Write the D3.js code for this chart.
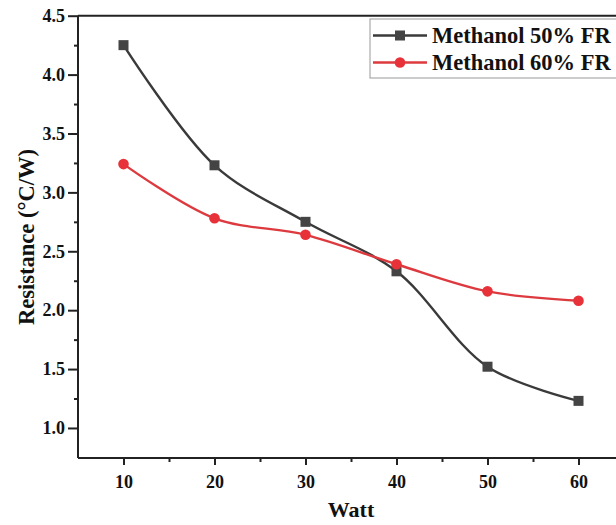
<!DOCTYPE html>
<html>
<head>
<meta charset="utf-8">
<script src="https://cdn.jsdelivr.net/npm/d3@7"></script>
<style>
  body { margin: 0; background: #fff; }
  text { font-family: "Liberation Serif", "Times New Roman", serif; font-weight: bold; }
</style>
</head>
<body>
<div id="chart"></div>
<script>
// chart values
var watts = [10, 20, 30, 40, 50, 60];
var methanol50 = [4.25, 3.23, 2.75, 2.33, 1.52, 1.23];
var methanol60 = [3.24, 2.78, 2.64, 2.39, 2.16, 2.08];
var seriesNames = ["Methanol 50% FR", "Methanol 60% FR"];
var xTicks = [10, 20, 30, 40, 50, 60];
var yTicks = [1.0, 1.5, 2.0, 2.5, 3.0, 3.5, 4.0, 4.5];

var W = 616, H = 525;
var plotLeft = 78, plotTop = 15.7, plotBottom = 458;

var svg = d3.select("#chart").append("svg").attr("width", W).attr("height", H);

// x runs past the right edge of the window, like the cropped original
var x = d3.scaleLinear().domain([5, 65]).range([plotLeft, plotLeft + 91 * 6]);
var y = d3.scaleLinear().domain([0.745, 4.5]).range([plotBottom, plotTop]);

// top border
svg.append("line").attr("x1", plotLeft).attr("x2", W).attr("y1", plotTop).attr("y2", plotTop)
    .attr("stroke", "#222").attr("stroke-width", 2);

var xAxis = svg.append("g").attr("transform", "translate(0," + plotBottom + ")")
    .call(d3.axisBottom(x).tickValues(xTicks).tickFormat(d3.format("d")).tickSize(7).tickPadding(10));
var xMinor = svg.append("g").attr("transform", "translate(0," + plotBottom + ")")
    .call(d3.axisBottom(x).tickValues([15, 25, 35, 45, 55]).tickFormat("").tickSize(4));

var yAxis = svg.append("g").attr("transform", "translate(" + plotLeft + ",0)")
    .call(d3.axisLeft(y).tickValues(yTicks).tickFormat(d3.format(".1f")).tickSize(10).tickPadding(3));
var yMinor = svg.append("g").attr("transform", "translate(" + plotLeft + ",0)")
    .call(d3.axisLeft(y).tickValues([1.25, 1.75, 2.25, 2.75, 3.25, 3.75, 4.25]).tickFormat("").tickSize(4));

[xAxis, xMinor, yAxis, yMinor].forEach(function (g) {
    g.attr("font-size", null).attr("font-family", null);
    g.select(".domain").attr("stroke", "#222").attr("stroke-width", 2);
    g.selectAll(".tick line").attr("stroke", "#222").attr("stroke-width", 2);
    g.selectAll(".tick text").attr("fill", "#111").style("font-size", "18px");
});
xAxis.select(".domain").attr("d", "M" + plotLeft + ",0H" + W);
yAxis.select(".domain").attr("d", "M0," + plotBottom + "V" + plotTop);
xMinor.select(".domain").remove();
yMinor.select(".domain").remove();

// axis titles
svg.append("text").attr("x", 351).attr("y", 517).attr("text-anchor", "middle")
    .style("font-size", "22px").attr("fill", "#111").text("Watt");
svg.append("text").attr("transform", "translate(34,237) rotate(-90)").attr("text-anchor", "middle")
    .style("font-size", "22.5px").attr("fill", "#111").text("Resistance (°C/W)");

// series
var series = [
    { name: seriesNames[0], values: methanol50, line: "#3a3a3a", fill: "#444", shape: "square" },
    { name: seriesNames[1], values: methanol60, line: "#dd3a3f", fill: "#e8323a", shape: "circle" }
];

var line = d3.line()
    .x(function (d, i) { return x(watts[i]); })
    .y(function (d) { return y(d); })
    .curve(d3.curveCatmullRom.alpha(0.5));

function drawMarker(g, s, cx, cy) {
    if (s.shape === "square") {
        g.append("rect").attr("x", cx - 5).attr("y", cy - 5).attr("width", 10).attr("height", 10)
            .attr("fill", s.fill);
    } else {
        g.append("circle").attr("cx", cx).attr("cy", cy).attr("r", 5.3).attr("fill", s.fill);
    }
}

series.forEach(function (s) {
    svg.append("path").datum(s.values).attr("d", line)
        .attr("fill", "none").attr("stroke", s.line).attr("stroke-width", 2.4);
    var g = svg.append("g");
    s.values.forEach(function (v, i) { drawMarker(g, s, x(watts[i]), y(v)); });
});

// legend
var lg = svg.append("g");
lg.append("rect").attr("x", 370).attr("y", 19).attr("width", 260).attr("height", 59)
    .attr("fill", "#fff").attr("stroke", "#999").attr("stroke-width", 1);
series.forEach(function (s, i) {
    var ly = 35.5 + i * 27;
    lg.append("line").attr("x1", 373).attr("x2", 427).attr("y1", ly).attr("y2", ly)
        .attr("stroke", s.line).attr("stroke-width", 2.4);
    drawMarker(lg, s, 400, ly);
    lg.append("text").attr("x", 432).attr("y", ly + 7.5).style("font-size", "22.5px")
        .attr("fill", "#111").text(s.name);
});
</script>
</body>
</html>
